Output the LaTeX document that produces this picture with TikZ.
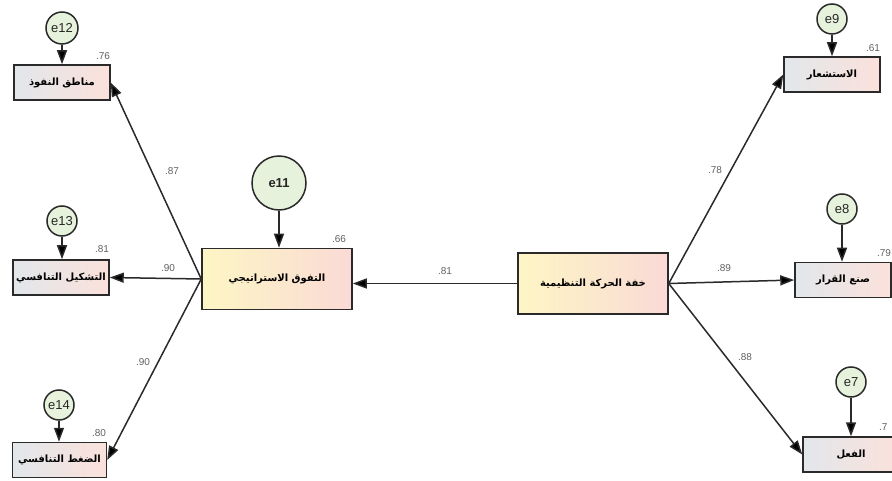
\documentclass[tikz,border=0pt]{standalone}
\usepackage{fontspec}
\setmainfont{Liberation Sans}
\newfontfamily\arabicfont[Script=Arabic]{DejaVu Sans}
\TeXXeTstate=1
\usetikzlibrary{arrows.meta}
\definecolor{lineC}{HTML}{2A2A2A}
\definecolor{smallL}{HTML}{E2E7EB}
\definecolor{smallR}{HTML}{FBE1DB}
\definecolor{bigL}{HTML}{FDF6C4}
\definecolor{bigR}{HTML}{FADAD6}
\definecolor{circF}{HTML}{E6F2DC}
\definecolor{labC}{HTML}{606060}
\tikzset{
  obsbox/.style={draw=lineC, line width=1.5pt, minimum width=96pt, minimum height=35pt, inner sep=0pt,
    left color=smallL, right color=smallR, font=\arabicfont\bfseries\fontsize{10}{11}\selectfont},
  latbox/.style={draw=lineC, line width=1.5pt, minimum width=150pt, minimum height=61pt, inner sep=0pt,
    left color=bigL, right color=bigR, font=\arabicfont\bfseries\fontsize{10}{11}\selectfont},
  errc/.style={circle, draw=lineC, line width=1.5pt, fill=circF, minimum size=30pt, inner sep=0pt,
    font=\fontsize{13}{14}\selectfont, text=black!85},
  bigerr/.style={errc, minimum size=54pt, font=\bfseries\fontsize{13}{14}\selectfont},
  arr/.style={draw=lineC, line width=1.5pt, -{Triangle[length=14pt,width=10pt,fill=black]}},
  lab/.style={font=\fontsize{10}{11}\selectfont, text=labC, inner sep=0pt}
}
\begin{document}
\begin{tikzpicture}[x=1pt,y=-1pt]
\useasboundingbox (0,0) rectangle (892,481);
% boxes
\node[obsbox] (b12) at (62,82.5) {\beginR مناطق النفوذ\endR};
\node[obsbox] (b13) at (61,277.5) {\beginR التشكيل التنافسي\endR};
\node[obsbox, minimum width=94pt] (b14) at (59.5,460) {\beginR الضغط التنافسي\endR};
\node[obsbox] (b9) at (832,74.5) {\beginR الاستشعار\endR};
\node[obsbox] (b8) at (843,280) {\beginR صنع القرار\endR};
\node[obsbox] (b7) at (851,454.5) {\beginR الفعل\endR};
\node[latbox] (L) at (277,279) {\beginR التفوق الاستراتيجي\endR};
\node[latbox] (R) at (593,283.5) {\beginR خفة الحركة التنظيمية\endR};
% error circles
\node[errc, minimum size=32pt] (c12) at (62,28) {e12};
\node[errc] (c13) at (62,221) {e13};
\node[errc] (c14) at (59,405) {e14};
\node[bigerr] (c11) at (279,183) {e11};
\node[errc] (c9) at (832,19) {e9};
\node[errc] (c8) at (842,209) {e8};
\node[errc] (c7) at (851,382) {e7};
% error arrows
\draw[arr] (c12) -- (c12 |- b12.north);
\draw[arr] (c13) -- (c13 |- b13.north);
\draw[arr] (c14) -- (c14 |- b14.north);
\draw[arr] (c11) -- (c11 |- L.north);
\draw[arr] (c9) -- (c9 |- b9.north);
\draw[arr] (c8) -- (c8 |- b8.north);
\draw[arr] (c7) -- (c7 |- b7.north);
% loadings
\draw[arr] (L.west) -- (b12.east);
\draw[arr] (L.west) -- (b13.east);
\draw[arr] (L.west) -- (b14.east);
\draw[arr] (R.east) -- (b9.west);
\draw[arr] (R.east) -- (b8.west);
\draw[arr] (R.east) -- (b7.west);
\draw[arr] (R.west) -- (R.west -| L.east);
% coefficient labels
\node[lab] (l87) at (172,171) {.87};
\node[lab] (l90a) at (168,268) {.90};
\node[lab] (l90b) at (143,362) {.90};
\node[lab] (l81) at (445,271) {.81};
\node[lab] (l78) at (715,170) {.78};
\node[lab] (l89) at (724,268) {.89};
\node[lab] (l88) at (745,357) {.88};
% R-squared labels
\node[lab] (r76) at (103,56) {.76};
\node[lab] (r81) at (102,249) {.81};
\node[lab] (r80) at (99,433) {.80};
\node[lab] (r66) at (339,239) {.66};
\node[lab] (r61) at (873,48) {.61};
\node[lab] (r79) at (884,253) {.79};
\node[lab, anchor=west] (r7) at (879,427) {.7};
\end{tikzpicture}
\end{document}
